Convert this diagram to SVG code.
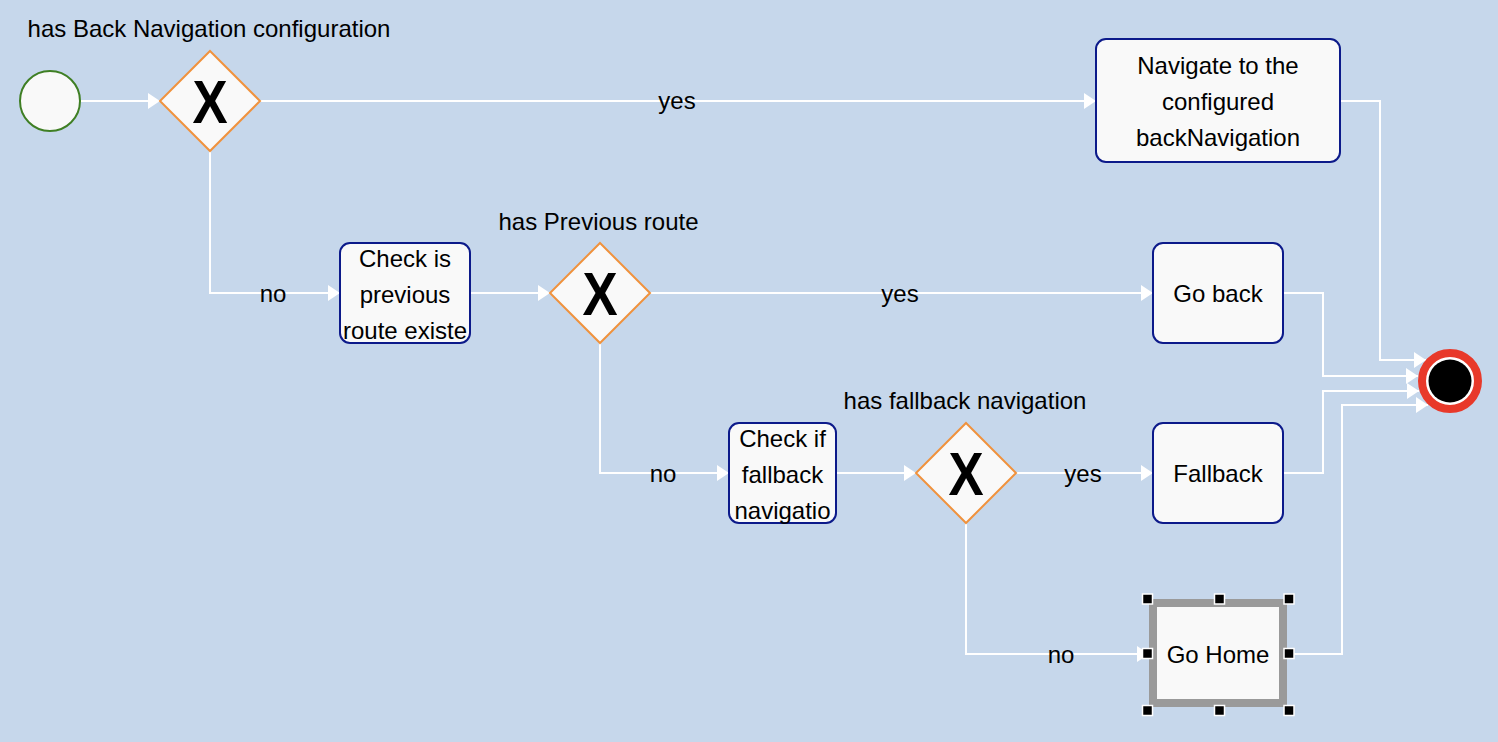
<svg xmlns="http://www.w3.org/2000/svg" width="1498" height="742" viewBox="0 0 1498 742">
<style>
.t{font-family:"Liberation Sans",Arial,sans-serif;font-size:24px;fill:#000;text-anchor:middle}
.x{font-family:"Liberation Sans",Arial,sans-serif;font-size:62px;font-weight:bold;fill:#000;text-anchor:middle}
.task{fill:#f9f9f9;stroke:#0c1a8a;stroke-width:2}
.gw{fill:#f9f9f9;stroke:#f0923d;stroke-width:2}
.c{fill:none;stroke:#fff;stroke-width:2;marker-end:url(#ah)}
.h{fill:#000;stroke:#fff;stroke-width:1.5}
</style>
<defs>
<marker id="ah" markerUnits="userSpaceOnUse" markerWidth="12" markerHeight="16" refX="12" refY="8" orient="auto" viewBox="0 0 12 16">
<path d="M0,0 L12,8 L0,16 z" fill="#fff"/>
</marker>
</defs>
<rect width="1498" height="742" fill="#c6d7eb"/>
<g id="connectors">
<path class="c" d="M80,101 H160"/>
<path class="c" d="M260,101 H1096"/>
<path class="c" d="M210,151 V293 H340"/>
<path class="c" d="M470,293 H550"/>
<path class="c" d="M650,293 H1153"/>
<path class="c" d="M600,343 V473 H729"/>
<path class="c" d="M836,473 H916"/>
<path class="c" d="M1016,473 H1153"/>
<path class="c" d="M966,523 V654 H1149"/>
<path class="c" d="M1340,101 H1380 V360 H1426"/>
<path class="c" d="M1283,293 H1323 V376 H1418"/>
<path class="c" d="M1283,473 H1323 V391 H1419"/>
<path class="c" d="M1291,654 H1342 V405 H1428"/>
<text class="t" x="677" y="109">yes</text>
<text class="t" x="273" y="302">no</text>
<text class="t" x="900" y="302">yes</text>
<text class="t" x="663" y="482">no</text>
<text class="t" x="1083" y="482">yes</text>
<text class="t" x="1061" y="663">no</text>
</g>
<g id="start">
<circle cx="50" cy="101" r="30" fill="#f9f9f9" stroke="#3f7f24" stroke-width="2"/>
</g>
<g id="gw1">
<polygon class="gw" points="210,51 260,101 210,151 160,101"/>
<text class="x" transform="translate(210,123) scale(0.85,1)">X</text>
<text class="t" x="209" y="37">has Back Navigation configuration</text>
</g>
<g id="navigate">
<rect class="task" x="1096" y="39" width="244" height="123" rx="10"/>
<text class="t" x="1218" y="74">Navigate to the</text>
<text class="t" x="1218" y="110">configured</text>
<text class="t" x="1218" y="146">backNavigation</text>
</g>
<g id="checkPrev">
<rect class="task" x="340" y="243" width="130" height="100" rx="10"/>
<text class="t" x="405" y="266.5">Check is</text>
<text class="t" x="405" y="302.5">previous</text>
<text class="t" x="405" y="338.5">route existe</text>
</g>
<g id="gw2">
<polygon class="gw" points="600,243 650,293 600,343 550,293"/>
<text class="x" transform="translate(600,315) scale(0.85,1)">X</text>
<text class="t" x="598.5" y="229.5">has Previous route</text>
</g>
<g id="goBack">
<rect class="task" x="1153" y="243" width="130" height="100" rx="10"/>
<text class="t" x="1218" y="302">Go back</text>
</g>
<g id="checkFallback">
<rect class="task" x="729" y="423" width="107" height="100" rx="10"/>
<text class="t" x="782.5" y="446.5">Check if</text>
<text class="t" x="782.5" y="482.5">fallback</text>
<text class="t" x="782.5" y="518.5">navigatio</text>
</g>
<g id="gw3">
<polygon class="gw" points="966,423 1016,473 966,523 916,473"/>
<text class="x" transform="translate(966,495) scale(0.85,1)">X</text>
<text class="t" x="965" y="409">has fallback navigation</text>
</g>
<g id="fallback">
<rect class="task" x="1153" y="423" width="130" height="100" rx="10"/>
<text class="t" x="1218" y="482">Fallback</text>
</g>
<g id="goHome">
<rect x="1153" y="603" width="130" height="100" fill="#f9f9f9" stroke="#9a9a9a" stroke-width="8"/>
<text class="t" x="1218" y="662.5">Go Home</text>
<rect class="h" x="1142.5" y="594" width="10" height="10"/>
<rect class="h" x="1214.5" y="594" width="10" height="10"/>
<rect class="h" x="1284" y="594" width="10" height="10"/>
<rect class="h" x="1142.5" y="648.5" width="10" height="10"/>
<rect class="h" x="1284" y="648.5" width="10" height="10"/>
<rect class="h" x="1142.5" y="705.5" width="10" height="10"/>
<rect class="h" x="1214.5" y="705.5" width="10" height="10"/>
<rect class="h" x="1284" y="705.5" width="10" height="10"/>
</g>
<g id="end">
<circle cx="1450" cy="381" r="28" fill="#fff" stroke="#e8392a" stroke-width="8"/>
<circle cx="1450" cy="381" r="21.5" fill="#000"/>
</g>
</svg>
